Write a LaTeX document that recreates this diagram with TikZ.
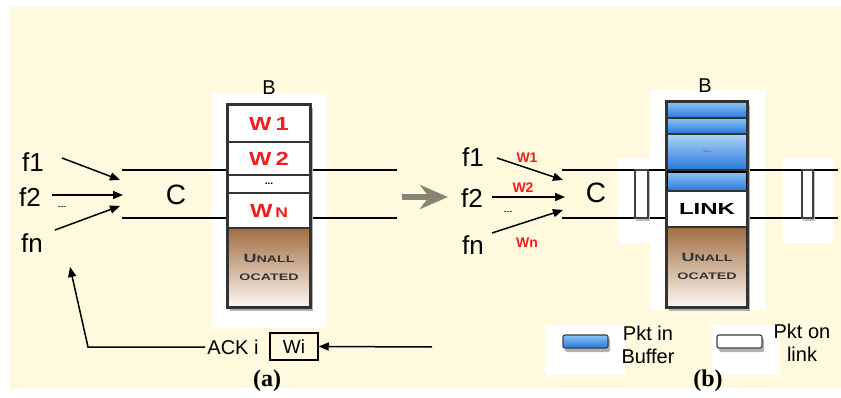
\documentclass[tikz,border=0pt]{standalone}
\usepackage{fontspec}
\usepackage{graphicx}
\setmainfont{Liberation Sans}
\setsansfont{Liberation Sans}
\newfontfamily\capfont{Liberation Serif}
\usetikzlibrary{arrows.meta}
\newcommand\fsz[1]{\fontsize{#1}{#1}\selectfont}
\definecolor{bgyellow}{RGB}{255,249,222}
\definecolor{wred}{RGB}{240,30,30}
\definecolor{brownT}{RGB}{160,110,65}
\definecolor{brownB}{RGB}{253,248,243}
\definecolor{blueT}{RGB}{140,195,245}
\definecolor{blueB}{RGB}{40,120,220}
\definecolor{grayarrow}{RGB}{140,130,115}
\newcommand\wlab[1]{\textcolor{wred}{\bfseries\scalebox{1.25}[1]{\fsz{19}#1}}}
\begin{document}
\begin{tikzpicture}[x=1pt,y=-1pt,
  chan/.style={line width=1.8pt,black},
  farrow/.style={line width=1.5pt,-{Triangle[length=10pt,width=8pt]}},
  cell/.style={draw=black!80,line width=1.2pt,inner sep=0pt,fill=white},
  shade/.style={fill=black!30},
  flab/.style={font=\fsz{26}},
  clab/.style={font=\fsz{28}},
  blab/.style={font=\fsz{20}},
  ulab/.style={font=\bfseries,text=black!80},
  rlab/.style={font=\fsz{14}\bfseries,text=wred},
  dots/.style={font=\fsz{9}},
  leg/.style={font=\fsz{20},align=center,inner sep=0pt},
  pktlink/.style={draw=black!75,line width=1.2pt,fill=white},
  caplab/.style={font=\fsz{24}\capfont\bfseries}]
\useasboundingbox (0,0) rectangle (841,398);
\fill[bgyellow] (10,7) rectangle (841,388);

% ================= panel (a) =================
\fill[white] (212,93) rectangle (327,328);
\draw[chan] (122,170) -- (228,170);
\draw[chan] (122,218) -- (228,218);
\draw[chan] (310,170) -- (397,170);
\draw[chan] (310,218) -- (397,218);

\fill[shade] (230,108) rectangle (313,311);
\node[cell,minimum width=82pt,minimum height=37pt] (w1a) at (269,123.5) {\wlab{W\,1}};
\node[cell,minimum width=82pt,minimum height=33pt] (w2a) at (269,158.5) {\wlab{W\,2}};
\node[cell,minimum width=82pt,minimum height=18pt] (dta) at (269,184) {\fsz{10}\bfseries ...};
\node[cell,minimum width=82pt,minimum height=35pt] (wna) at (269,210.5) {\wlab{W{\fsz{14}\,N}}};
\node[cell,minimum width=82pt,minimum height=79pt,top color=brownT,bottom color=brownB] (ua) at (269,267.5) {};
\node[ulab] (ua1) at (269,258) {\scalebox{1.5}[1]{\fsz{12}U\fsz{9.5}NALL}};
\node[ulab] (ua2) at (269,277) {\scalebox{1.5}[1]{\fsz{9.5}OCATED}};
\draw[line width=2pt,black!80] (w1a.north west) rectangle (ua.south east);
\node[blab] (ba) at (269,88) {B};

\node[flab] (f1a) at (33,162) {f1};
\node[flab] (f2a) at (30,197) {f2};
\node[flab] (fna) at (32,243) {fn};
\node[dots] (dda) at (62,208) {{-}{-}{-}};
\node[clab] (ca) at (176,195) {C};
\coordinate (f1s) at (62,158);  \coordinate (f1e) at (120,180);
\coordinate (f2s) at (52,195);  \coordinate (f2e) at (123,195);
\coordinate (fns) at (55,230);  \coordinate (fne) at (120,206);
\draw[farrow] (f1s) -- (f1e);
\draw[farrow] (f2s) -- (f2e);
\draw[farrow] (fns) -- (fne);

% ack feedback
\node[font=\fsz{20},inner sep=2pt] (ack) at (233,347) {ACK i};
\node[draw,line width=1.5pt,minimum width=48pt,minimum height=27pt,inner sep=0pt,font=\fsz{19}] (wi) at (294,346.5) {Wi};
\coordinate (ackin) at (432,347);
\coordinate (corner) at (88,347);
\coordinate (ackend) at (70,267);
\draw[farrow] (ackin) -- (wi.east);
\draw[farrow] (ack.west) -- (corner) -- (ackend);

\node[caplab] (capa) at (267,381) {(a)};

% transition arrow
\coordinate (gs) at (402,197);
\coordinate (ge) at (448,197);
\draw[grayarrow,line width=6pt,-{Stealth[length=28pt,width=24pt,inset=9pt]}] (gs) -- (ge);

% ================= panel (b) =================
\fill[white] (618,158) rectangle (667,243);
\fill[white] (783,158) rectangle (833,243);
\fill[white] (650,90) rectangle (765,310);
\draw[chan] (562,170) -- (667,170);
\draw[chan] (562,218) -- (667,218);
\draw[chan] (747,170) -- (838,170);
\draw[chan] (747,218) -- (838,218);
\fill[black!25] (636,172) rectangle (650,221);
\draw[pktlink] (635,170) rectangle (648,218);
\fill[black!25] (803,172) rectangle (815,221);
\draw[pktlink] (802,170) rectangle (813,218);

\fill[shade] (669,105) rectangle (750,311);
\node[cell,minimum width=80pt,minimum height=16pt,top color=blueT,bottom color=blueB] (b1) at (707,110) {};
\node[cell,minimum width=80pt,minimum height=16pt,top color=blueT,bottom color=blueB] (b2) at (707,126) {};
\node[cell,minimum width=80pt,minimum height=36pt,top color=blueT!70!white,bottom color=blueB,font=\fsz{10}\bfseries,text=black!55] (b3) at (707,152) {...};
\node[cell,draw=black,line width=1.8pt,minimum width=80pt,minimum height=19pt,top color=blueT,bottom color=blueB] (b4) at (707,181.5) {};
\node[cell,minimum width=80pt,minimum height=36pt,font=\bfseries] (lk) at (707,209) {\scalebox{1.5}[1]{\fsz{16}LINK}};
\node[cell,minimum width=80pt,minimum height=80pt,top color=brownT,bottom color=brownB] (ub) at (707,267) {};
\node[ulab] (ub1) at (707,257) {\scalebox{1.5}[1]{\fsz{12}U\fsz{9.5}NALL}};
\node[ulab] (ub2) at (707,276) {\scalebox{1.5}[1]{\fsz{9.5}OCATED}};
\draw[line width=2pt,black!80] (b1.north west) rectangle (ub.south east);
\node[blab] (bb) at (705,86) {B};

\node[flab] (f1b) at (473,157) {f1};
\node[flab] (f2b) at (472,198) {f2};
\node[flab] (fnb) at (473,245) {fn};
\node[dots] (ddb) at (508,213) {{-}{-}{-}};
\node[rlab] (w1b) at (527,158) {W1};
\node[rlab] (w2b) at (523,188) {W2};
\node[rlab] (wnb) at (527,243) {Wn};
\node[clab] (cb) at (596,193) {C};
\coordinate (g1s) at (497,158);  \coordinate (g1e) at (563,180);
\coordinate (g2s) at (492,197);  \coordinate (g2e) at (565,197);
\coordinate (gns) at (492,233);  \coordinate (gne) at (563,210);
\draw[farrow] (g1s) -- (g1e);
\draw[farrow] (g2s) -- (g2e);
\draw[farrow] (gns) -- (gne);

% legend
\fill[white] (545,325) rectangle (625,375);
\fill[white] (712,325) rectangle (780,375);
\fill[black!30,rounded corners=2pt] (565,338) rectangle (610,352);
\draw[rounded corners=2pt,draw=black!75,line width=1.2pt,top color=blueT,bottom color=blueB] (563,335) rectangle (608,348);
\fill[black!30,rounded corners=2pt] (719,338) rectangle (764,352);
\draw[rounded corners=2pt,pktlink] (717,335) rectangle (762,348);
\node[leg] (legb) at (648,345) {Pkt in\\[3pt]Buffer};
\node[leg] (legl) at (802,343) {Pkt on\\[3pt]link};

\node[caplab] (capb) at (708,381) {(b)};
\end{tikzpicture}
\end{document}
